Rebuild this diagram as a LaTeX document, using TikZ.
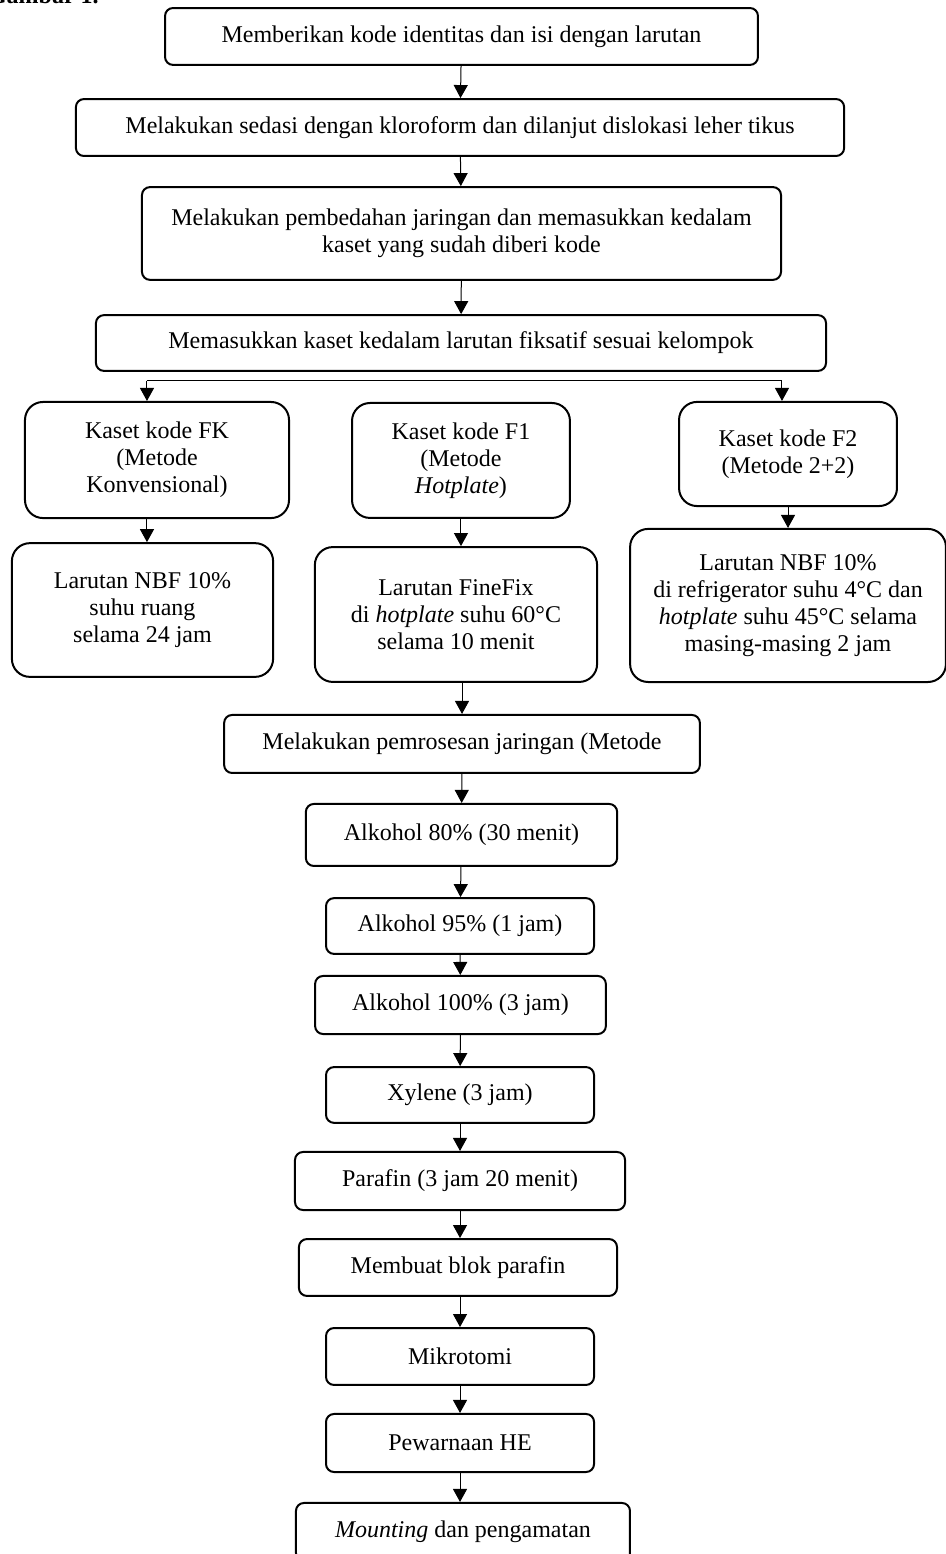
\documentclass[tikz,border=0pt]{standalone}
\usepackage{fontspec}
\setmainfont{Liberation Serif}
\usetikzlibrary{arrows.meta, positioning, calc}

\begin{document}
\begin{tikzpicture}[
    every node/.style={font=\fontsize{12}{13.6}\selectfont},
    blk/.style={draw, line width=1pt, rounded corners=4pt, align=center, inner sep=2pt},
    kbox/.style={draw, line width=1pt, rounded corners=9pt, align=center, inner sep=2pt},
    arr/.style={-{Triangle[length=6.5pt, width=7pt]}, line width=0.5pt}
]
\useasboundingbox (0,0) rectangle (16.607,-27.309);
\node[anchor=base west, font=\fontsize{12}{13.6}\selectfont\bfseries] (cap) at (-0.334,-0.07) {Gambar 1.};

\node[blk, minimum width=10.42cm, minimum height=1.00cm] (ident) at (8.110,-0.641) {Memberikan kode identitas dan isi dengan larutan};
\node[blk, minimum width=13.50cm, minimum height=1.00cm] (sedasi) at (8.084,-2.241) {Melakukan sedasi dengan kloroform dan dilanjut dislokasi leher tikus};
\node[blk, minimum width=11.23cm, minimum height=1.63cm] (bedah) at (8.110,-4.103) {Melakukan pembedahan jaringan dan memasukkan kedalam\\kaset yang sudah diberi kode};
\node[blk, minimum width=12.83cm, minimum height=0.98cm] (fiksatif) at (8.101,-6.028) {Memasukkan kaset kedalam larutan fiksatif sesuai kelompok};

\draw[arr] (ident) -- (sedasi);
\draw[arr] (sedasi) -- (bedah);
\draw[arr] (bedah) -- (fiksatif);

% three fixative groups
\node[kbox, minimum width=4.64cm, minimum height=2.04cm] (fk) at (2.759,-8.084) {Kaset kode FK\\(Metode\\Konvensional)};
\node[kbox, minimum width=3.83cm, minimum height=2.02cm] (f1) at (8.101,-8.092) {Kaset kode F1\\(Metode\\\textit{Hotplate})};
\node[kbox, minimum width=3.83cm, minimum height=1.83cm] (f2) at (13.848,-7.978) {Kaset kode F2\\(Metode 2+2)};

\node[kbox, minimum width=4.59cm, minimum height=2.35cm] (nbfa) at (2.504,-10.720) {Larutan NBF 10\%\\suhu ruang\\selama 24 jam};
\node[kbox, minimum width=4.96cm, minimum height=2.37cm] (finefix) at (8.013,-10.799) {Larutan FineFix\\di \textit{hotplate} suhu 60°C\\selama 10 menit};
\node[kbox, minimum width=5.55cm, minimum height=2.69cm] (nbfb) at (13.848,-10.640) {Larutan NBF 10\%\\di refrigerator suhu 4°C dan\\\textit{hotplate} suhu 45°C selama\\masing-masing 2 jam};

\coordinate (splitL) at (2.583,-6.695);
\coordinate (splitR) at (13.742,-6.695);
\draw[line width=0.5pt] (splitL) -- (splitR);
\draw[arr] (splitL) -- (splitL |- fk.north);
\draw[arr] (splitR) -- (splitR |- f2.north);

\draw[arr] (fk.south -| splitL) -- (nbfa.north -| splitL);
\draw[arr] (f1) -- (f1 |- finefix.north);
\draw[arr] (f2) -- (nbfb);

% tissue processing chain
\node[blk, minimum width=8.36cm, minimum height=1.02cm] (proses) at (8.119,-13.074) {Melakukan pemrosesan jaringan (Metode};
\node[blk, minimum width=5.47cm, minimum height=1.09cm] (alk80) at (8.110,-14.673) {Alkohol 80\% (30 menit)};
\node[blk, minimum width=4.71cm, minimum height=0.98cm] (alk95) at (8.084,-16.273) {Alkohol 95\% (1 jam)};
\node[blk, minimum width=5.11cm, minimum height=1.02cm] (alk100) at (8.092,-17.661) {Alkohol 100\% (3 jam)};
\node[blk, minimum width=4.71cm, minimum height=0.98cm] (xylene) at (8.084,-19.242) {Xylene (3 jam)};
\node[blk, minimum width=5.80cm, minimum height=1.02cm] (parafin) at (8.084,-20.754) {Parafin (3 jam 20 menit)};
\node[blk, minimum width=5.59cm, minimum height=1.00cm] (blok) at (8.048,-22.274) {Membuat blok parafin};
\node[blk, minimum width=4.71cm, minimum height=1.00cm] (mikro) at (8.084,-23.838) {Mikrotomi};
\node[blk, minimum width=4.71cm, minimum height=1.02cm] (he) at (8.084,-25.358) {Pewarnaan HE};
\node[blk, minimum width=5.87cm, minimum height=1.02cm] (mount) at (8.136,-26.922) {\textit{Mounting} dan pengamatan};

\draw[arr] (finefix.south -| proses.north) -- (proses.north);
\draw[arr] (proses) -- (alk80);
\draw[arr] (alk80) -- (alk95);
\draw[arr] (alk95) -- (alk100);
\draw[arr] (alk100) -- (xylene);
\draw[arr] (xylene) -- (parafin);
\draw[arr] (parafin) -- (blok.north -| parafin.south);
\draw[arr] (blok.south -| mikro.north) -- (mikro);
\draw[arr] (mikro) -- (he);
\draw[arr] (he) -- (he |- mount.north);

\end{tikzpicture}
\end{document}
